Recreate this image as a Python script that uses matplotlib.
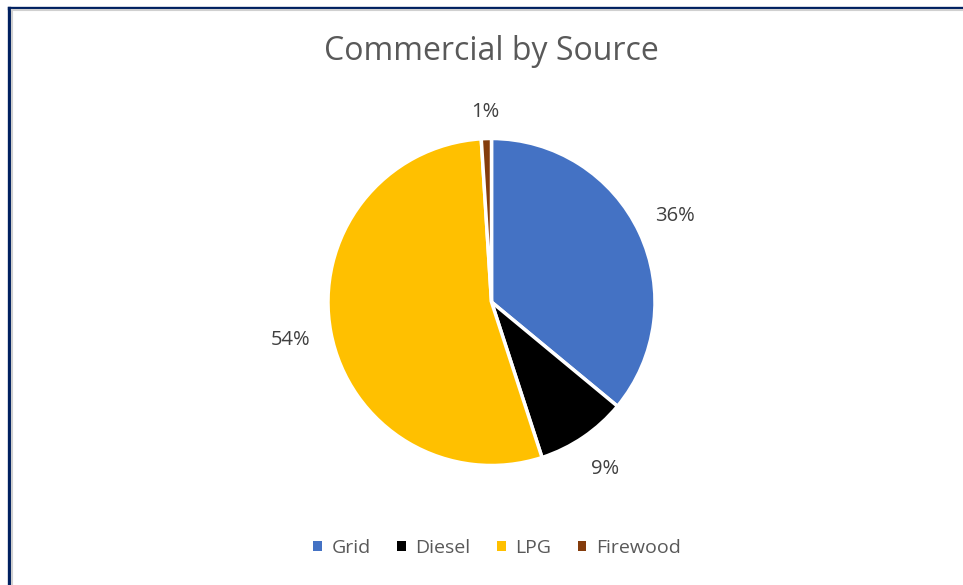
import numpy as np
import matplotlib.pyplot as plt
from matplotlib.patches import Patch
from matplotlib.lines import Line2D

sources = ['Grid', 'Diesel', 'LPG', 'Firewood']
shares = [36, 9, 54, 1]
colors = ['#4472C4', '#000000', '#FFC000', '#843C0C']
label_dist = [1.24, 1.235, 1.25, 1.16]

plt.rcParams['font.family'] = ['Open Sans', 'DejaVu Sans']
W, H = 963, 585
fig = plt.figure(figsize=(W / 100, H / 100), dpi=100)

# frame border (navy line with grey inner shadow)
fig.add_artist(Line2D([9 / W, 9 / W], [0, 1 - 7.5 / H], color='#002060', lw=2.4))
fig.add_artist(Line2D([9 / W, 1], [1 - 7.5 / H, 1 - 7.5 / H], color='#002060', lw=2.4))
fig.add_artist(Line2D([11.5 / W, 11.5 / W], [0, 1 - 10 / H], color='#D0D0D0', lw=1.5))
fig.add_artist(Line2D([11.5 / W, 1], [1 - 10 / H, 1 - 10 / H], color='#D0D0D0', lw=1.5))

cx, cy, r = 491.5, 302, 163.5
half = 200
ax = fig.add_axes([(cx - half) / W, (H - cy - half) / H, 2 * half / W, 2 * half / H])

wedges, texts = ax.pie(shares, colors=colors, startangle=90, counterclock=False,
                       labels=[f'{s}%' for s in shares], labeldistance=1.23,
                       wedgeprops=dict(edgecolor='white', linewidth=2.5),
                       textprops=dict(color='#404040', fontsize=14.5))
for w, t, d in zip(wedges, texts, label_dist):
    ang = np.deg2rad((w.theta1 + w.theta2) / 2)
    t.set_position((d * np.cos(ang), d * np.sin(ang)))
    t.set_ha('center')
    t.set_va('center')
lim = half / r
ax.set_xlim(-lim, lim)
ax.set_ylim(-lim, lim)
ax.axis('off')

fig.text(491 / W, 1 - 52 / H, 'Commercial by Source', ha='center', va='center',
         fontsize=23, color='#595959')

handles = [Patch(facecolor=c, edgecolor='none') for c in colors]
fig.legend(handles, sources, loc='center', bbox_to_anchor=(497 / W, 1 - 548 / H),
           ncol=4, frameon=False, fontsize=14, handlelength=0.45, handleheight=0.45,
           handletextpad=0.5, columnspacing=1.35, labelcolor='#595959')

fig.savefig('out.png', dpi=100)
